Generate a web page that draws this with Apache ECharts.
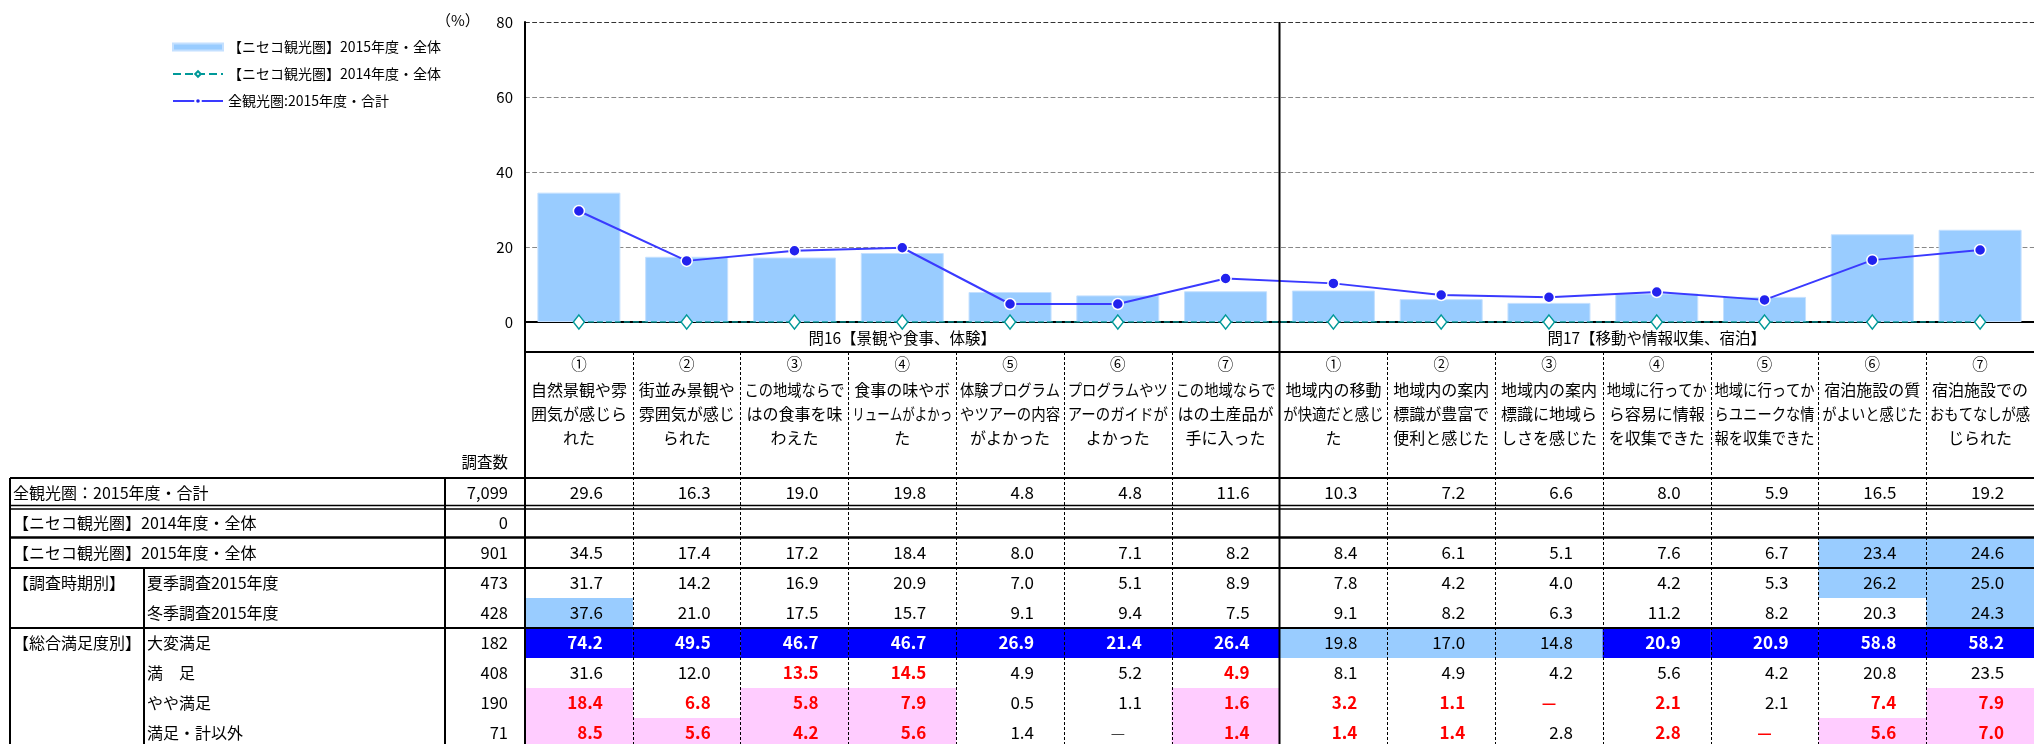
<!DOCTYPE html>
<html>
<head>
<meta charset="utf-8">
<title>ニセコ観光圏 満足度</title>
<script src="https://cdn.jsdelivr.net/npm/echarts@6/dist/echarts.min.js"></script>
<style>
  html, body { margin: 0; padding: 0; background: #fff; }
  #chart { width: 2034px; height: 744px; }
</style>
</head>
<body>
<div id="chart"></div>
<script>
const FONT = '"Noto Sans CJK JP", "Noto Sans", sans-serif'

// 設問（2グループ × 7項目）
const sections = ['問16【景観や食事、体験】', '問17【移動や情報収集、宿泊】']
const itemNo = ['①', '②', '③', '④', '⑤', '⑥', '⑦', '①', '②', '③', '④', '⑤', '⑥', '⑦']
const itemLabels = [
  ['自然景観や雰', '囲気が感じら', 'れた'],
  ['街並み景観や', '雰囲気が感じ', 'られた'],
  ['この地域ならで', 'はの食事を味', 'わえた'],
  ['食事の味やボ', 'リュームがよかっ', 'た'],
  ['体験プログラム', 'やツアーの内容', 'がよかった'],
  ['プログラムやツ', 'アーのガイドが', 'よかった'],
  ['この地域ならで', 'はの土産品が', '手に入った'],
  ['地域内の移動', 'が快適だと感じ', 'た'],
  ['地域内の案内', '標識が豊富で', '便利と感じた'],
  ['地域内の案内', '標識に地域ら', 'しさを感じた'],
  ['地域に行ってか', 'ら容易に情報', 'を収集できた'],
  ['地域に行ってか', 'らユニークな情', '報を収集できた'],
  ['宿泊施設の質', 'がよいと感じた'],
  ['宿泊施設での', 'おもてなしが感', 'じられた']
]

// 系列（%）
const allArea2015 = [29.6, 16.3, 19.0, 19.8, 4.8, 4.8, 11.6, 10.3, 7.2, 6.6, 8.0, 5.9, 16.5, 19.2]
const niseko2015 = [34.5, 17.4, 17.2, 18.4, 8.0, 7.1, 8.2, 8.4, 6.1, 5.1, 7.6, 6.7, 23.4, 24.6]
const niseko2014 = [0, 0, 0, 0, 0, 0, 0, 0, 0, 0, 0, 0, 0, 0]
const summer2015 = [31.7, 14.2, 16.9, 20.9, 7.0, 5.1, 8.9, 7.8, 4.2, 4.0, 4.2, 5.3, 26.2, 25.0]
const winter2015 = [37.6, 21.0, 17.5, 15.7, 9.1, 9.4, 7.5, 9.1, 8.2, 6.3, 11.2, 8.2, 20.3, 24.3]
const verySatisfied = [74.2, 49.5, 46.7, 46.7, 26.9, 21.4, 26.4, 19.8, 17.0, 14.8, 20.9, 20.9, 58.8, 58.2]
const satisfied = [31.6, 12.0, 13.5, 14.5, 4.9, 5.2, 4.9, 8.1, 4.9, 4.2, 5.6, 4.2, 20.8, 23.5]
const fairlySatisfied = [18.4, 6.8, 5.8, 7.9, 0.5, 1.1, 1.6, 3.2, 1.1, null, 2.1, 2.1, 7.4, 7.9]
const notSatisfied = [8.5, 5.6, 4.2, 5.6, 1.4, null, 1.4, 1.4, 1.4, 2.8, 2.8, null, 5.6, 7.0]

const seriesNames = ['【ニセコ観光圏】2015年度・全体', '【ニセコ観光圏】2014年度・全体', '全観光圏:2015年度・合計']

// 表の行
const rowGroups = ['全観光圏：2015年度・合計', '【ニセコ観光圏】2014年度・全体', '【ニセコ観光圏】2015年度・全体', '【調査時期別】', '', '【総合満足度別】', '', '', '']
const rowLabels = ['', '', '', '夏季調査2015年度', '冬季調査2015年度', '大変満足', '満　足', 'やや満足', '満足・計以外']
const sampleSizes = [7099, 0, 901, 473, 428, 182, 408, 190, 71]
const rowValues = [allArea2015, [], niseko2015, summer2015, winter2015, verySatisfied, satisfied, fairlySatisfied, notSatisfied]

// layout
const GRID_LEFT = 525
const GRID_TOP = 22
const GRID_H = 300
const GRID_W = 1513
const ZERO_Y = GRID_TOP + GRID_H
const SEC_BOTTOM = 352
const ROW_TOP = 478
const ROW_H = 30
const BOTTOM = 744

const measureCtx = document.createElement('canvas').getContext('2d')
function textWidth (text, font) {
  measureCtx.font = font
  return measureCtx.measureText(text).width
}

function text (x, y, str, opt) {
  opt = opt || {}
  const size = opt.size || 16
  const weight = opt.bold ? 'bold ' : ''
  const font = weight + size + 'px ' + FONT
  const align = opt.align || 'left'
  let scaleX = 1
  if (opt.maxWidth) {
    const w = textWidth(str, font)
    if (w > opt.maxWidth) scaleX = opt.maxWidth / w
  }
  return {
    type: 'text',
    x: x,
    y: y,
    scaleX: scaleX,
    silent: true,
    z: 30,
    style: {
      text: str,
      x: 0,
      y: 0,
      font: font,
      fill: opt.color || '#000',
      align: align,
      textAlign: align,
      verticalAlign: 'middle',
      textVerticalAlign: 'middle'
    }
  }
}

function line (x1, y1, x2, y2, width, dash) {
  return {
    type: 'line',
    silent: true,
    z: 20,
    shape: { x1: x1, y1: y1, x2: x2, y2: y2 },
    style: { stroke: '#000', lineWidth: width || 1, lineDash: dash || null }
  }
}

function cellStyle (v, base) {
  const d = Math.round(((v == null ? 0 : v) - base) * 10) / 10
  if (d >= 10) return { bg: '#0000ff', color: '#fff', bold: true }
  if (d >= 5) return { bg: '#99ccff', color: '#000', bold: false }
  if (d <= -10) return { bg: '#ffccff', color: '#ff0000', bold: true }
  if (d <= -5) return { bg: null, color: '#ff0000', bold: true }
  return { bg: null, color: '#000', bold: false }
}

const chart = echarts.init(document.getElementById('chart'))

chart.setOption({
  animation: false,
  backgroundColor: '#ffffff',
  textStyle: { fontFamily: FONT },
  grid: { left: GRID_LEFT, top: GRID_TOP, width: GRID_W, height: GRID_H },
  legend: {
    orient: 'vertical',
    left: 167,
    top: 35,
    itemWidth: 50,
    itemHeight: 7,
    itemGap: 13,
    textStyle: { fontSize: 14, color: '#000', fontFamily: FONT },
    data: [
      { name: seriesNames[0], icon: 'rect' },
      { name: seriesNames[1] },
      { name: seriesNames[2] }
    ]
  },
  xAxis: {
    type: 'category',
    data: itemNo.map((n, i) => i),
    axisLine: { lineStyle: { color: '#000', width: 2 } },
    axisTick: { show: false },
    axisLabel: { show: false }
  },
  yAxis: {
    type: 'value',
    min: 0,
    max: 80,
    interval: 20,
    axisLine: { show: true, lineStyle: { color: '#000', width: 2 } },
    axisTick: { show: false },
    axisLabel: { fontSize: 15, color: '#000', margin: 12, fontFamily: FONT },
    splitLine: {
      lineStyle: { color: ['#000', '#888', '#888', '#888', '#333'], type: 'dashed', width: 1.2 }
    }
  },
  series: [
    {
      name: seriesNames[0],
      type: 'bar',
      data: niseko2015,
      barWidth: 83,
      itemStyle: { color: '#99ccff', borderColor: '#c4e0ff', borderWidth: 1 },
      z: 1
    },
    {
      name: seriesNames[1],
      type: 'line',
      data: niseko2014,
      symbol: 'diamond',
      symbolSize: [11, 14],
      itemStyle: { color: '#ffffff', borderColor: '#009999', borderWidth: 1.5 },
      lineStyle: { color: '#009999', type: 'dashed', width: 1.5 },
      z: 5
    },
    {
      name: seriesNames[2],
      type: 'line',
      data: allArea2015,
      symbol: 'circle',
      symbolSize: 11,
      itemStyle: { color: '#2222ee', borderColor: '#ffffff', borderWidth: 1.5 },
      lineStyle: { color: '#3a3aff', width: 2 },
      z: 4
    }
  ]
})

function buildTable () {
  const els = []
  const n = itemNo.length
  const colW = GRID_W / n
  const centers = itemNo.map((_, i) => chart.convertToPixel({ xAxisIndex: 0 }, i))
  const right = GRID_LEFT + GRID_W

  // cell backgrounds and values
  const base = rowValues[0]
  rowValues.forEach((vals, r) => {
    const cy = ROW_TOP + r * ROW_H + ROW_H / 2
    const top = ROW_TOP + r * ROW_H
    if (rowGroups[r]) els.push(text(13, cy, rowGroups[r], { size: 16 }))
    if (rowLabels[r]) els.push(text(147, cy, rowLabels[r], { size: 16 }))
    els.push(text(508, cy, sampleSizes[r].toLocaleString('en-US'), { size: 16.5, align: 'right' }))
    vals.forEach((v, i) => {
      const st = r === 0 ? cellStyle(base[i], base[i]) : cellStyle(v, base[i])
      if (st.bg) {
        els.push({
          type: 'rect',
          silent: true,
          z: 10,
          shape: { x: centers[i] - colW / 2, y: top, width: colW, height: ROW_H },
          style: { fill: st.bg }
        })
      }
      if (v == null) {
        els.push(text(centers[i], cy, '—', { size: 16, align: 'center', color: st.color === '#000' ? '#444' : st.color, bold: st.bold }))
      } else {
        els.push(text(centers[i] + 24, cy, v.toFixed(1), { size: 17, align: 'right', color: st.color, bold: st.bold }))
      }
    })
  })

  // section titles
  sections.forEach((s, k) => {
    const cx = (centers[k * 7] + centers[k * 7 + 6]) / 2
    els.push(text(cx, 338, s, { size: 15.5, align: 'center' }))
  })

  // column headers
  itemNo.forEach((no, i) => {
    els.push(text(centers[i], 364, no, { size: 15.5, align: 'center' }))
    itemLabels[i].forEach((t, j) => {
      els.push(text(centers[i], 390 + j * 24, t, { size: 16, align: 'center', maxWidth: colW - 8 }))
    })
  })

  els.push(text(508, 462, '調査数', { size: 15.5, align: 'right' }))
  els.push(text(436, 20, '（%）', { size: 15 }))

  // grid lines of the table
  els.push(line(10, ROW_TOP, right, ROW_TOP, 2))
  els.push(line(10, 505.5, right, 505.5, 1.5))
  els.push(line(10, 509, right, 509, 1.5))
  els.push(line(10, 537.5, right, 537.5, 2.5))
  els.push(line(10, 568, right, 568, 2))
  els.push(line(10, 628, right, 628, 2))
  els.push(line(GRID_LEFT, SEC_BOTTOM, right, SEC_BOTTOM, 2))
  els.push(line(10, ROW_TOP, 10, BOTTOM, 2))
  els.push(line(144, 568, 144, BOTTOM, 2))
  els.push(line(445, ROW_TOP, 445, BOTTOM, 2))
  els.push(line(GRID_LEFT, ZERO_Y, GRID_LEFT, BOTTOM, 2))
  for (let i = 1; i < n; i++) {
    const x = Math.round(centers[i] - colW / 2) + 0.5
    if (i === 7) {
      els.push(line(x, GRID_TOP, x, BOTTOM, 2))
    } else {
      els.push(line(x, SEC_BOTTOM, x, BOTTOM, 1, [3, 2]))
    }
  }
  return els
}

chart.setOption({ graphic: { elements: buildTable() } })
</script>
</body>
</html>
